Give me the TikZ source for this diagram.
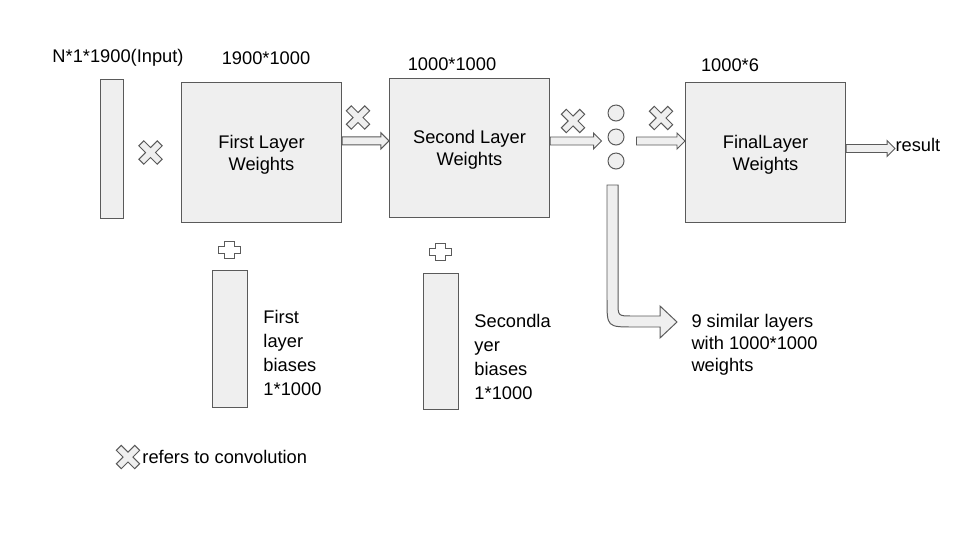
\documentclass[tikz,border=0pt]{standalone}
\usepackage{fontspec}
\setmainfont{Liberation Sans}
\usepackage{tikz}
\usetikzlibrary{calc}
\definecolor{boxgray}{HTML}{EFEFEF}
\definecolor{edgegray}{HTML}{5A5A5A}
\tikzset{
  layer/.style={draw=edgegray, fill=boxgray, minimum width=4cm, minimum height=3.475cm, align=center, inner sep=0pt, text depth=0pt},
  bar/.style={draw=edgegray, fill=boxgray, inner sep=0pt},
  dotc/.style={circle, draw=edgegray, fill=boxgray, minimum size=0.4cm, inner sep=0pt},
  txt/.style={inner sep=0pt},
  fat/.style={draw=edgegray, fill=boxgray, to path={let \p1=(\tikztostart), \p2=(\tikztotarget) in
    (\x1,\y1+0.1cm) -- (\x2-0.2cm,\y1+0.1cm) -- (\x2-0.2cm,\y1+0.2cm) -- (\x2,\y1)
    -- (\x2-0.2cm,\y1-0.2cm) -- (\x2-0.2cm,\y1-0.1cm) -- (\x1,\y1-0.1cm) -- cycle}},
  convx/.pic={
    \draw[draw=edgegray, fill=boxgray, rotate=45] (-3.5,13) -- (3.5,13) -- (3.5,3.5) -- (13,3.5) -- (13,-3.5) -- (3.5,-3.5)
      -- (3.5,-13) -- (-3.5,-13) -- (-3.5,-3.5) -- (-13,-3.5) -- (-13,3.5) -- (-3.5,3.5) -- cycle;
  },
  biasplus/.pic={
    \draw[draw=edgegray, fill=white] (-5,-8.5) -- (5,-8.5) -- (5,-3.5) -- (11,-3.5) -- (11,3.5) -- (5,3.5)
      -- (5,8.5) -- (-5,8.5) -- (-5,3.5) -- (-11,3.5) -- (-11,-3.5) -- (-5,-3.5) -- cycle;
  }
}
\begin{document}
\begin{tikzpicture}[x=0.025cm, y=-0.025cm, line width=0.7pt, font=\fontsize{13}{15.5}\selectfont]
  \useasboundingbox (0,0) rectangle (960,540);
  \node[bar, minimum width=0.575cm, minimum height=3.45cm] (input) at (111.5,149) {};
  \node[txt] (inputlbl) at (118,58) {N*1*1900(Input)};
  \node[layer] (first) at (261.5,152.5) {First Layer\\Weights};
  \node[txt] (firstlbl) at (266,58) {1900*1000};
  \node[layer] (second) at (469.5,148) {Second Layer\\Weights};
  \node[txt] (secondlbl) at (452,64) {1000*1000};
  \node[layer] (final) at (765.5,152.5) {FinalLayer\\Weights};
  \node[txt] (finallbl) at (730,65) {1000*6};
  \node[dotc] (dot1) at (616,113) {};
  \node[dotc] (dot2) at (616,137) {};
  \node[dotc] (dot3) at (616,161) {};
  \coordinate (dotsin) at ([xshift=-0.15cm]dot2.west);
  \coordinate (dotsout) at ([xshift=0.3cm,yshift=-0.1cm]dot2.east);
  \node[txt, anchor=west] (result) at (895,145) {result};
  \draw[fat] ([yshift=0.29cm]first.east) to (second.west);
  \draw[fat] ([yshift=0.175cm]second.east) to (dotsin);
  \draw[fat] (dotsout) to (final.west);
  \draw[fat] ([yshift=0.1cm]final.east) to (result.west);
  \pic at (150.5,152.5) {convx};
  \pic at (358,117.5) {convx};
  \pic at (573,121) {convx};
  \pic at (661,118) {convx};
  \pic at (229,250) {biasplus};
  \pic at (440,252) {biasplus};
  \node[bar, minimum width=0.875cm, minimum height=3.4cm] (bias1) at (229.5,339) {};
  \node[bar, minimum width=0.875cm, minimum height=3.4cm] (bias2) at (440.5,341.5) {};
  \node[txt, anchor=west, align=left, font=\fontsize{13}{17}\selectfont] (bias1txt) at (263,353) {First\\layer\\biases\\1*1000};
  \node[txt, anchor=west, align=left, font=\fontsize{13}{17}\selectfont] (bias2txt) at (474,357) {Secondla\\yer\\biases\\1*1000};
  \draw[draw=edgegray, fill=boxgray] (607,185) -- (607,300) .. controls (607,327) .. (634,327) -- (660,327) -- (660,338)
    -- (677,322) -- (660,306) -- (660,316) -- (632,316) .. controls (618,316) .. (618,302) -- (618,185) -- cycle;
  \node[txt, anchor=west, align=left] (similar) at (691,345) {9 similar layers\\with 1000*1000\\weights};
  \pic at (128,457) {convx};
  \node[txt, anchor=west] (legend) at (142,457) {refers to convolution};
\end{tikzpicture}
\end{document}
